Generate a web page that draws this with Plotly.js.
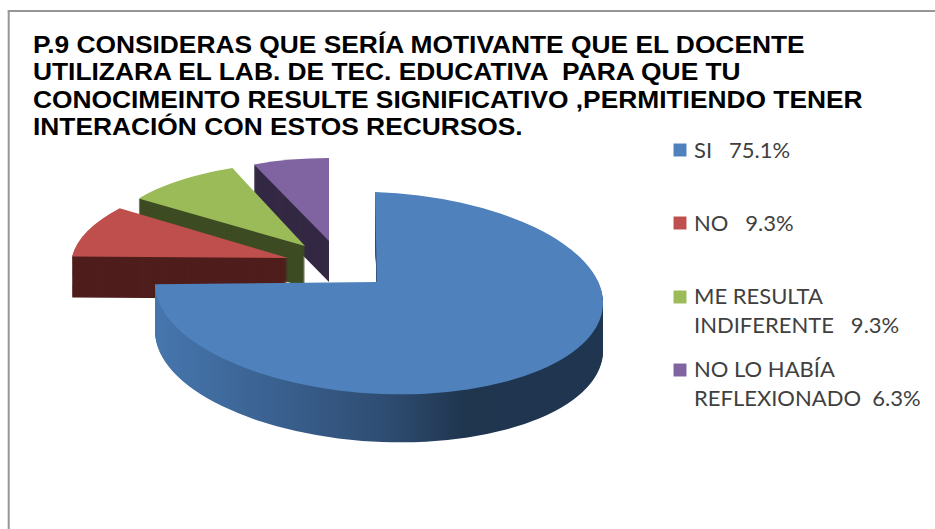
<!DOCTYPE html>
<html>
<head>
<meta charset="utf-8">
<script src="https://cdn.plot.ly/plotly-3.0.1.min.js"></script>
<style>html,body{margin:0;padding:0;background:#fff}</style>
</head>
<body>
<div id="chart" style="width:935px;height:529px"></div>
<script>
const categories = ['SI   75.1%', 'NO   9.3%', 'ME RESULTA<br>INDIFERENTE   9.3%', 'NO LO HABÍA<br>REFLEXIONADO  6.3%'];
const values = [75.1, 9.3, 9.3, 6.3];
const topColors = ['#4f81bd', '#be4f4c', '#9bbb59', '#8064a2'];
const wallColors = ['#2f4d73', '#4f1e1c', '#3e4c23', '#352944'];
const titleText = '<b>P.9 CONSIDERAS QUE SERÍA MOTIVANTE QUE EL DOCENTE<br>UTILIZARA EL LAB. DE TEC. EDUCATIVA  PARA QUE TU<br>CONOCIMEINTO RESULTE SIGNIFICATIVO ,PERMITIENDO TENER<br>INTERACIÓN CON ESTOS RECURSOS.</b>';

// how each exploded slice is projected on the page: draw order, depth and 3-D look
const sliceFits = [
  {i: 3, depth: 41, A: 195, B: 0, C: 0, D: 83, ex: 329, ey: 241},
  {i: 2, depth: 41, A: 205, B: 1, C: 7, D: 84, ex: 305, ey: 246},
  {i: 1, depth: 41, A: 216, B: 1, C: 20, D: 88, ex: 288, ey: 258},
  {i: 0, depth: 48, A: 224, B: 8, C: -4, D: 101, ex: 379, ey: 293, vertex: [377, 282]}
];

const T = 'rgba(0,0,0,0)';
function pieTrace(colors, legend) {
  return {
    type: 'pie', labels: categories, values: values, sort: false, direction: 'clockwise', rotation: 0,
    textinfo: 'none', hoverinfo: 'none', showlegend: !!legend,
    domain: {x: [0.1, 0.6], y: [0.05, 0.95]},
    marker: {colors: colors, line: {width: 0}}
  };
}
const data = [pieTrace(topColors, true)];
const layers = [null];
sliceFits.forEach(f => {
  for (let k = f.depth; k >= 0; k--) {
    const cols = [T, T, T, T];
    cols[f.i] = k === 0 ? topColors[f.i] : wallColors[f.i];
    data.push(pieTrace(cols));
    layers.push({f: f, k: k});
  }
});
const layout = {
  width: 935, height: 529, margin: {l: 0, r: 0, t: 0, b: 0},
  paper_bgcolor: '#fff',
  title: {text: titleText, x: 33 / 935, xanchor: 'left', xref: 'paper', y: 0.955, yanchor: 'top',
          font: {family: 'Liberation Sans', size: 24, color: '#000'}},
  legend: {x: 0.6, y: 0.745, xanchor: 'left', yanchor: 'top', font: {family: 'Lato', size: 22, color: '#404040'},
           bgcolor: 'rgba(0,0,0,0)', itemclick: false, itemdoubleclick: false},
  shapes: [
    {type: 'line', xref: 'paper', yref: 'paper', x0: 8.7 / 935, x1: 8.7 / 935, y0: 0, y1: 1 - 11 / 529, line: {color: '#969696', width: 2}},
    {type: 'line', xref: 'paper', yref: 'paper', x0: 7.7 / 935, x1: 1, y0: 1 - 11 / 529, y1: 1 - 11 / 529, line: {color: '#969696', width: 2}}
  ]
};
const legendTargetY = [150, 223, 297, 370];
const legendTextNudge = [-1, -1, 13, 13];
Plotly.newPlot('chart', data, layout, {displayModeBar: false}).then(gd => {
  const svg = gd.querySelector('.main-svg');
  const ns = 'http://www.w3.org/2000/svg';
  const defs = svg.querySelector('defs');
  const lg = document.createElementNS(ns, 'linearGradient');
  lg.id = 'blueWall';
  [['0', '#4676ae'], ['0.5', '#2f4d73'], ['0.68', '#20364f'], ['1', '#1f3550']].forEach(s => {
    const st = document.createElementNS(ns, 'stop');
    st.setAttribute('offset', s[0]); st.setAttribute('stop-color', s[1]); lg.appendChild(st);
  });
  defs.appendChild(lg);

  const R0 = gd.calcdata[0][0].r, cx0 = gd.calcdata[0][0].cx, cy0 = gd.calcdata[0][0].cy;
  gd.querySelectorAll('.pielayer .trace').forEach((tr, n) => {
    const L = layers[n];
    if (!L) { tr.style.display = 'none'; return; }
    const f = L.f;
    tr.setAttribute('transform',
      `translate(${f.ex},${f.ey + L.k}) matrix(${f.A / R0},${f.B / R0},${-f.C / R0},${f.D / R0},0,0) translate(${-cx0},${-cy0})`);
    const path = tr.querySelectorAll('path.surface')[f.i];
    if (f.i === 0 && L.k > 0) path.style.fill = 'url(#blueWall)';
    if (f.vertex && L.k === 0) {
      const dx = f.vertex[0] - f.ex, dy = f.vertex[1] - f.ey;
      const det = (f.A * f.D + f.C * f.B) / (R0 * R0);
      const lx = (dx * f.D / R0 + dy * f.C / R0) / det;
      const ly = (dy * f.A / R0 - dx * f.B / R0) / det;
      const d = path.getAttribute('d');
      const m = d.match(/^M([^,]+),([^l]+)l([^,]+),([^a]+)(a.*)$/);
      if (m) {
        const cx = +m[1], cy = +m[2];
        path.setAttribute('d', `M${cx + lx},${cy + ly}L${cx + +m[3]},${cy + +m[4]}${m[5]}`);
      }
    }
  });

  // title line spacing and the reference's wide lettering
  const title = gd.querySelector('.gtitle');
  title.querySelectorAll('tspan.line').forEach((t, i) => { t.setAttribute('dy', String(i * 27.5)); });
  const tb = title.getBoundingClientRect();
  title.setAttribute('transform', `translate(33,${31 - tb.top}) scale(1.098,1) translate(-33,0)`);

  // legend item placement
  const scrollbox = gd.querySelector('.legend .scrollbox');
  if (scrollbox) scrollbox.removeAttribute('clip-path');
  gd.querySelectorAll('.legend .traces').forEach((tr, i) => {
    const sym = tr.querySelector('.legendpoints path');
    sym.setAttribute('transform', sym.getAttribute('transform') + ' scale(1.08)');
    const text = tr.querySelector('text.legendtext');
    text.querySelectorAll('tspan.line').forEach((t, j) => { if (j > 0) t.setAttribute('dy', String(j * 29)); });
    const m = tr.getAttribute('transform').match(/translate\(([^,]+),\s*([^)]+)\)/);
    const r = sym.getBoundingClientRect();
    const nx = +m[1] + 680 - (r.left + r.right) / 2, ny = +m[2] + legendTargetY[i] - (r.top + r.bottom) / 2;
    tr.setAttribute('transform', `translate(${nx},${ny})`);
    const tr2 = text.getBoundingClientRect();
    text.setAttribute('transform', `translate(${694 - tr2.left},${legendTextNudge[i]})`);
  });
});
</script>
</body>
</html>
